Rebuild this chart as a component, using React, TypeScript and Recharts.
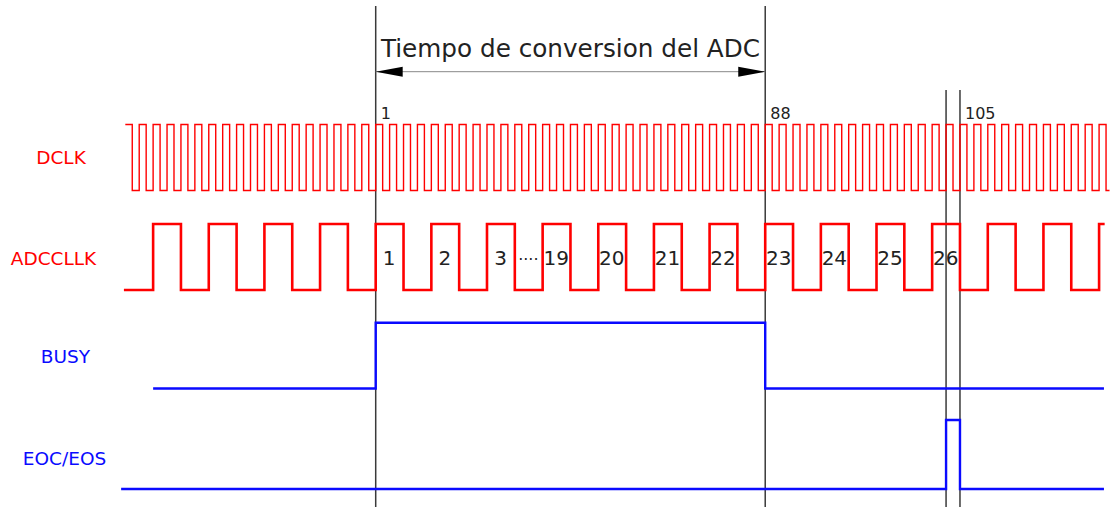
import { ComposedChart, Line, Scatter, XAxis, YAxis, ReferenceLine } from 'recharts';

// time axis is in DCLK periods
const DCLK_EDGES = [
  0.5, 1, 1.5, 2, 2.5, 3, 3.5, 4, 4.5, 5, 5.5, 6, 6.5, 7, 7.5, 8, 8.5, 9, 9.5, 10,
  10.5, 11, 11.5, 12, 12.5, 13, 13.5, 14, 14.5, 15, 15.5, 16, 16.5, 17, 17.5, 18, 18.5, 19, 19.5, 20,
  20.5, 21, 21.5, 22, 22.5, 23, 23.5, 24, 24.5, 25, 25.5, 26, 26.5, 27, 27.5, 28, 28.5, 29, 29.5, 30,
  30.5, 31, 31.5, 32, 32.5, 33, 33.5, 34, 34.5, 35, 35.5, 36, 36.5, 37, 37.5, 38, 38.5, 39, 39.5, 40,
  40.5, 41, 41.5, 42, 42.5, 43, 43.5, 44, 44.5, 45, 45.5, 46, 46.5, 47, 47.5, 48, 48.5, 49, 49.5, 50,
  50.5, 51, 51.5, 52, 52.5, 53, 53.5, 54, 54.5, 55, 55.5, 56, 56.5, 57, 57.5, 58, 58.5, 59, 59.5, 60,
  60.5, 61, 61.5, 62, 62.5, 63, 63.5, 64, 64.5, 65, 65.5, 66, 66.5, 67, 67.5, 68, 68.5, 69, 69.5, 70,
  70.5,
];
const ADCCLK_EDGES = [
  2, 4, 6, 8, 10, 12, 14, 16, 18, 20, 22, 24, 26, 28, 30, 32, 34, 36, 38, 40,
  42, 44, 46, 48, 50, 52, 54, 56, 58, 60, 62, 64, 66, 68, 70,
];
const BUSY_EDGES = [18, 46];
const EOC_EDGES = [59, 60];

const SIGNAL_NAMES = ['DCLK', 'ADCCLLK', 'BUSY', 'EOC/EOS'];

// labels on the ADCCLK high phases
const ADC_LABEL_T = [18, 22, 26, 28, 30, 34, 38, 42, 46, 50, 54, 58];
const ADC_LABEL_TEXT = ['1', '2', '3', '····', '19', '20', '21', '22', '23', '24', '25', '26'];

// DCLK count markers
const MARKER_T = [18, 46, 60];
const MARKER_TEXT = ['1', '88', '105'];

const RED = '#ff0000';
const BLUE = '#0a0aff';
const FONT = '"DejaVu Sans", Verdana, sans-serif';

const LANES = {
  dclk: { high: 124.5, low: 190.5 },
  adc: { high: 224, low: 290 },
  busy: { high: 322.7, low: 388.5 },
  eoc: { high: 420, low: 489 },
};
const NAME_Y = [157, 258, 356, 458];
const NAME_X = [61, 53.5, 65.5, 64.5];
const NAME_COLOR = [RED, RED, BLUE, BLUE];

function buildTrace(start: number, startLevel: number, edges: number[], end: number, lane: { high: number; low: number }) {
  const lv = (l: number) => lane.low - l * (lane.low - lane.high);
  let level = startLevel;
  const pts = [{ t: start, y: lv(level) }];
  edges.forEach((e) => {
    level = 1 - level;
    pts.push({ t: e, y: lv(level) });
  });
  pts.push({ t: end, y: lv(level) });
  return pts;
}

const dclkData = buildTrace(0, 1, DCLK_EDGES, 70.75, LANES.dclk);
const adcData = buildTrace(-0.1, 0, ADCCLK_EDGES, 70.4, LANES.adc);
const busyData = buildTrace(2, 0, BUSY_EDGES, 70.35, LANES.busy);
const eocData = buildTrace(-0.3, 0, EOC_EDGES, 70.35, LANES.eoc);

const adcLabels = ADC_LABEL_T.map((t, i) => ({ t, y: 258, text: ADC_LABEL_TEXT[i] }));
const markerLabels = MARKER_T.map((t, i) => ({ t, y: 113, text: MARKER_TEXT[i] }));

const ArrowShape = (p: any) => {
  const { x1, y1, x2, y2 } = p;
  return (
    <g>
      <line x1={x1} y1={y1} x2={x2} y2={y2} stroke="#888" strokeWidth={1} />
      <polygon points={`${x1},${y1} ${x1 + 27},${y1 - 5} ${x1 + 27},${y1 + 5}`} fill="#000" />
      <polygon points={`${x2},${y2} ${x2 - 27},${y2 - 5} ${x2 - 27},${y2 + 5}`} fill="#000" />
      <text x={(x1 + x2) / 2} y={y1 - 15} textAnchor="middle" fontFamily={FONT} fontSize={24.7} fill="#222">
        Tiempo de conversion del ADC
      </text>
    </g>
  );
};

const AdcLabel = (p: any) => {
  const dots = p.payload.text.startsWith('·');
  return (
    <text
      x={p.cx + 13.5}
      y={p.cy + (dots ? 1 : 0)}
      textAnchor="middle"
      dominantBaseline="central"
      fontFamily={FONT}
      fontSize={dots ? 16 : 20}
      fill="#222"
    >
      {p.payload.text}
    </text>
  );
};

const MarkerLabel = (p: any) => (
  <text x={p.cx + 5} y={p.cy} textAnchor="start" dominantBaseline="central" fontFamily={FONT} fontSize={16} fill="#222">
    {p.payload.text}
  </text>
);

const NameTick = (p: any) => (
  <text
    x={NAME_X[p.index]}
    y={p.y}
    textAnchor="middle"
    dominantBaseline="central"
    fontFamily={FONT}
    fontSize={18.5}
    fill={NAME_COLOR[p.index]}
  >
    {SIGNAL_NAMES[p.index]}
  </text>
);

const GRID_LINES = [
  { t: 18, top: 6 },
  { t: 46, top: 6 },
  { t: 59, top: 90 },
  { t: 60, top: 90 },
];

export default function App() {
  return (
    <div style={{ position: 'absolute', left: 0, top: 0, background: '#fff' }}>
      <ComposedChart width={1113} height={507} margin={{ top: 0, right: 0, bottom: 0, left: 0 }}>
        <XAxis dataKey="t" type="number" domain={[-1.1, 71]} allowDataOverflow hide />
        <YAxis
          type="number"
          domain={[0, 507]}
          reversed
          allowDataOverflow
          width={110}
          ticks={NAME_Y}
          interval={0}
          axisLine={false}
          tickLine={false}
          tick={NameTick}
        />
        {GRID_LINES.map((g) => (
          <ReferenceLine
            key={g.t}
            segment={[{ x: g.t, y: g.top }, { x: g.t, y: 507 }]}
            stroke="#3a3a3a"
            strokeWidth={1.5}
          />
        ))}
        <ReferenceLine segment={[{ x: 18, y: 71.7 }, { x: 46, y: 71.7 }]} shape={ArrowShape} />
        <Line data={dclkData} dataKey="y" type="stepAfter" stroke={RED} strokeWidth={1.4} dot={false} activeDot={false} isAnimationActive={false} />
        <Line data={adcData} dataKey="y" type="stepAfter" stroke={RED} strokeWidth={2.6} dot={false} activeDot={false} isAnimationActive={false} />
        <Line data={busyData} dataKey="y" type="stepAfter" stroke={BLUE} strokeWidth={2.4} dot={false} activeDot={false} isAnimationActive={false} />
        <Line data={eocData} dataKey="y" type="stepAfter" stroke={BLUE} strokeWidth={2.4} dot={false} activeDot={false} isAnimationActive={false} />
        <Scatter data={adcLabels} dataKey="y" shape={AdcLabel} isAnimationActive={false} />
        <Scatter data={markerLabels} dataKey="y" shape={MarkerLabel} isAnimationActive={false} />
      </ComposedChart>
    </div>
  );
}
